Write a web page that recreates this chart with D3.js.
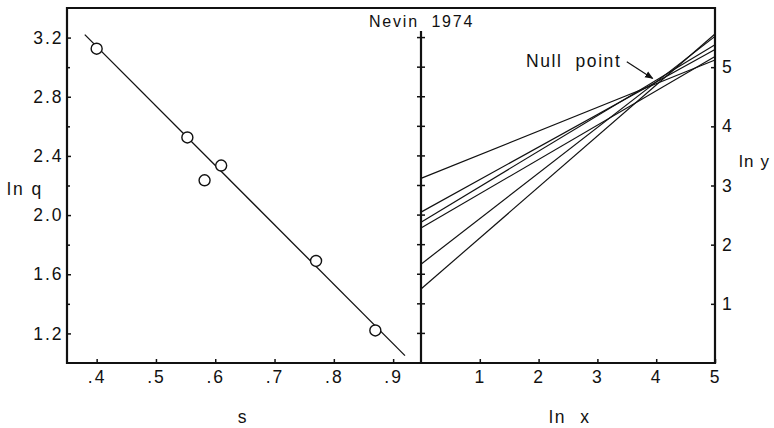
<!DOCTYPE html>
<html>
<head>
<meta charset="utf-8">
<script src="https://cdn.jsdelivr.net/npm/d3@7"></script>
<style>
  body { margin: 0; background: #fff; }
  svg text { font-family: "Liberation Sans", Arial, sans-serif; fill: #111; }
</style>
</head>
<body>
<script>
const w = 774
const h = 428

// left panel: ln q against s
const sValues = [0.40, 0.553, 0.582, 0.61, 0.77, 0.87]
const lnQ = [3.125, 2.525, 2.235, 2.335, 1.69, 1.22]
const fitS = [0.38, 0.92]
const fitQ = [3.22, 1.05]
const sTicks = [0.4, 0.5, 0.6, 0.7, 0.8, 0.9]
const qTicks = [1.2, 1.6, 2.0, 2.4, 2.8, 3.2]
const qMinor = [1.4, 1.8, 2.2, 2.6, 3.0]

// right panel: ln y against ln x, one line per point
const lnxEnds = [0, 5]
const lnyAtZero = [3.12, 2.55, 2.38, 2.28, 1.67, 1.25]
const lnyAtFive = [5.12, 5.30, 5.38, 5.18, 5.52, 5.56]
const xTicksR = [1, 2, 3, 4, 5]
const yTicksR = [1, 2, 3, 4, 5]

const svg = d3.select('body').append('svg')
  .attr('width', w)
  .attr('height', h)

const pl = 67, pm = 421, pr = 715, pt = 8, pb = 363

const xS = d3.scaleLinear().domain([0.35, 0.947]).range([pl, pm])
const yQ = d3.scaleLinear().domain([1.0, 3.4]).range([pb, pt])
const xR = d3.scaleLinear().domain([0, 5]).range([pm, pr])
const yR = d3.scaleLinear().domain([0, 6]).range([pb, pt])

// axes (ticks point inward)
const fmtS = d => d3.format('.1f')(d).replace(/^0/, '')

svg.append('g')
  .attr('transform', `translate(0,${pb})`)
  .call(d3.axisBottom(xS).tickValues(sTicks).tickFormat(fmtS).tickSizeInner(-4).tickSizeOuter(0).tickPadding(8))

svg.append('g')
  .attr('transform', `translate(${pl},0)`)
  .call(d3.axisLeft(yQ).tickValues(qTicks).tickFormat(d3.format('.1f')).tickSizeInner(-4).tickSizeOuter(0).tickPadding(3.5))

svg.append('g')
  .attr('transform', `translate(${pl},0)`)
  .call(d3.axisLeft(yQ).tickValues(qMinor).tickFormat('').tickSizeInner(-3).tickSizeOuter(0))

svg.append('g')
  .attr('transform', `translate(0,${pb})`)
  .call(d3.axisBottom(xR).tickValues(xTicksR).tickFormat(d3.format('d')).tickSizeInner(-4).tickSizeOuter(0).tickPadding(8))

svg.append('g')
  .attr('transform', `translate(${pr},0)`)
  .call(d3.axisRight(yR).tickValues(yTicksR).tickFormat(d3.format('d')).tickSizeInner(-4).tickSizeOuter(0).tickPadding(7))

// ticks crossing the middle divider
svg.append('g')
  .selectAll('line')
  .data(qTicks.concat(qMinor))
  .enter()
  .append('line')
  .attr('x1', pm - 4)
  .attr('x2', pm + 4)
  .attr('y1', d => yQ(d))
  .attr('y2', d => yQ(d))
  .attr('stroke', '#111')
  .attr('stroke-width', 1.5)

svg.selectAll('.domain').remove()
svg.selectAll('.tick line').attr('stroke', '#111').attr('stroke-width', 1.5)
svg.selectAll('.tick text')
  .attr('font-size', 17.5)
  .attr('letter-spacing', 2)
  .attr('font-family', '"Liberation Sans", Arial, sans-serif')
  .attr('fill', '#111')

// frame
svg.append('path')
  .attr('d', `M${pl},${pt}H${pr}V${pb}H${pl}Z`)
  .attr('fill', 'none')
  .attr('stroke', '#111')
  .attr('stroke-width', 2.2)

svg.append('line')
  .attr('x1', pm).attr('x2', pm)
  .attr('y1', 31).attr('y2', pb)
  .attr('stroke', '#111')
  .attr('stroke-width', 2.2)

// fitted line
svg.append('line')
  .attr('x1', xS(fitS[0])).attr('y1', yQ(fitQ[0]))
  .attr('x2', xS(fitS[1])).attr('y2', yQ(fitQ[1]))
  .attr('stroke', '#111')
  .attr('stroke-width', 1.3)

// points
svg.selectAll('circle.pt')
  .data(sValues)
  .enter()
  .append('circle')
  .attr('class', 'pt')
  .attr('cx', d => xS(d))
  .attr('cy', (d, i) => yQ(lnQ[i]))
  .attr('r', 5.5)
  .attr('fill', '#fff')
  .attr('stroke', '#111')
  .attr('stroke-width', 1.4)

// right panel lines
svg.append('g')
  .selectAll('line')
  .data(lnyAtZero)
  .enter()
  .append('line')
  .attr('x1', xR(lnxEnds[0]))
  .attr('y1', d => yR(d))
  .attr('x2', xR(lnxEnds[1]))
  .attr('y2', (d, i) => yR(lnyAtFive[i]))
  .attr('stroke', '#111')
  .attr('stroke-width', 1.2)

// labels
const label = (txt, x, y, anchor, size, sp) => svg.append('text')
  .text(txt)
  .attr('x', x)
  .attr('y', y)
  .attr('text-anchor', anchor || 'start')
  .attr('font-size', size || 17.5)
  .attr('letter-spacing', sp === undefined ? 2 : sp)
  .style('white-space', 'pre')

label('Nevin  1974', 369, 27, 'start', 16, 1.8)
label('ln q', 7, 195)
label('ln y', 739, 167, 'start', 17, 1.2)
label('s', 243, 423, 'middle')
label('ln  x', 570, 423, 'middle')
label('Null  point', 526, 67, 'start', 17.5, 1.6)

// arrow to the null point
svg.append('defs').append('marker')
  .attr('id', 'arr')
  .attr('viewBox', '0 0 10 10')
  .attr('refX', 9).attr('refY', 5)
  .attr('markerWidth', 7).attr('markerHeight', 7)
  .attr('orient', 'auto')
  .append('path')
  .attr('d', 'M0,1L10,5L0,9Z')
  .attr('fill', '#111')

svg.append('line')
  .attr('x1', xR(3.5)).attr('y1', yR(5.09))
  .attr('x2', xR(3.94)).attr('y2', yR(4.81))
  .attr('stroke', '#111')
  .attr('stroke-width', 1.2)
  .attr('marker-end', 'url(#arr)')
</script>
</body>
</html>
